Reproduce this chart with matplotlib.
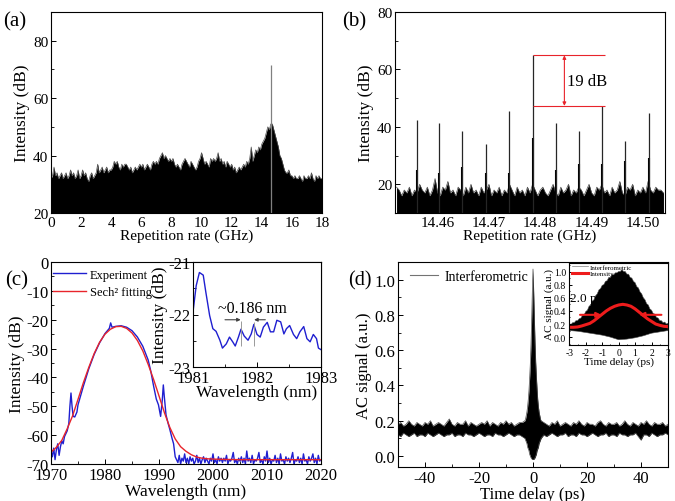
import numpy as np
import matplotlib
matplotlib.use('Agg')
import matplotlib.pyplot as plt
from matplotlib.ticker import AutoMinorLocator, MultipleLocator
from matplotlib.lines import Line2D

plt.rcParams['font.family'] = 'serif'
plt.rcParams['font.serif'] = ['Liberation Serif', 'DejaVu Serif']
plt.rcParams['axes.unicode_minus'] = False
plt.rcParams['axes.linewidth'] = 0.8

# %% (a) RF spectrum, 0-18 GHz, noise top every 0.1 GHz
rep_x = np.linspace(0, 18, 181)
rep_db = [32, 33, 36, 33, 34, 32, 33, 34, 32, 33,
          34, 32, 33, 35, 33, 34, 32, 33, 35, 32,
          33, 35, 33, 34, 32, 31, 33, 34, 32, 33,
          34, 37, 34, 35, 36, 34, 35, 36, 34, 35,
          35, 36, 38, 37, 38, 36, 35, 37, 36, 37,
          37, 36, 35, 36, 34, 35, 36, 35, 36, 37,
          36, 37, 35, 36, 37, 36, 35, 37, 38, 37,
          38, 37, 39, 40, 41, 39, 40, 39, 38, 39,
          38, 39, 37, 36, 37, 36, 35, 37, 38, 39,
          38, 37, 36, 38, 37, 36, 35, 36, 38, 39,
          41, 39, 37, 38, 37, 36, 39, 38, 39, 38,
          39, 41, 38, 39, 37, 38, 36, 38, 37, 36,
          37, 35, 36, 34, 35, 36, 35, 36, 37, 36,
          38, 37, 39, 43, 38, 40, 42, 41, 43, 42,
          44, 45, 46, 48, 50, 49, 51, 51, 49, 47,
          45, 43, 40, 39, 37, 35, 34, 34, 35, 33,
          33, 32, 33, 32, 32, 33, 32, 31, 33, 32,
          32, 33, 32, 34, 32, 31, 33, 32, 33, 32,
          32]
spike_a_x = [14.6]
spike_a_db = [71.5]

# %% (b) zoomed RF spectrum
fine_x = np.linspace(14.452, 14.504, 105)
fine_db = [19, 18, 16, 18, 17, 19, 16, 18, 17, 20,
           18, 17, 19, 16, 18, 22, 17, 16, 19, 18,
           21, 17, 18, 16, 19, 18, 16, 19, 17, 20,
           17, 18, 16, 19, 17, 18, 20, 16, 18, 17,
           19, 16, 18, 17, 20, 18, 16, 19, 17, 18,
           16, 19, 17, 20, 18, 16, 18, 19, 17, 16,
           18, 20, 17, 16, 19, 17, 18, 20, 16, 18,
           17, 19, 18, 16, 18, 20, 17, 16, 19, 18,
           20, 17, 18, 16, 19, 17, 18, 21, 17, 16,
           19, 18, 20, 16, 18, 17, 19, 17, 21, 18,
           17, 19, 18, 18, 17]
peak_b_x = [14.4559, 14.4603, 14.4648, 14.4695, 14.4740, 14.4785,
            14.4831, 14.4876, 14.4920, 14.4965, 14.5011]
peak_b_db = [42.3, 41.5, 38.7, 33.9, 45.4, 64.9, 41.2, 38.5, 47.3, 35.2, 45.0]
peak_b_base = [25, 24, 26, 24, 24, 36, 25, 27, 27, 28, 29]

# %% (c) optical spectrum
wl_exp = [1970.0, 1970.25, 1970.5, 1970.75, 1971.0, 1971.25, 1971.5, 1971.75,
          1972.0, 1972.25, 1972.5, 1972.75, 1973.0, 1973.3, 1973.5, 1973.7,
          1973.9, 1974.1, 1974.4, 1974.8, 1975.0, 1976.0, 1977.0, 1978.0,
          1979.0, 1980.0, 1980.8, 1981.05, 1981.3, 1982.0, 1983.0, 1984.0,
          1985.0, 1986.0, 1987.0, 1988.0, 1988.5, 1989.0, 1989.5, 1989.9,
          1990.3, 1990.6, 1990.8, 1991.0, 1991.3, 1991.7, 1992.0, 1992.4,
          1992.7, 1993.0]
db_exp = [-65.5, -67.5, -64.5, -68.5, -65, -63, -67, -64,
          -62, -63, -60.5, -59.5, -58.5, -56, -50, -45.4,
          -50, -53.5, -53.7, -52, -49.5, -43, -37, -32,
          -28, -24.8, -23, -21.1, -22.6, -22.3, -22.1, -22.6,
          -23.8, -26, -29.2, -34, -38, -43, -47.5, -49.5,
          -53.5, -48, -42.6, -47, -53, -56, -58, -61,
          -63, -67.5]
wl_floor = np.linspace(1993.25, 2020, 108)
db_floor = [-68.5, -69.5, -67, -70, -68, -69, -66.5, -69.5, -68, -70, -67.5, -69,
            -68, -70, -69, -67, -69.5, -68, -70, -68.5, -67.5, -69.5, -68, -69,
            -70, -68, -69, -66.5, -69.5, -68.5, -70, -67.5, -69, -68, -69.5, -68,
            -69, -67, -70, -68.5, -69, -68, -66, -69.5, -68.5, -70, -68, -69,
            -67.5, -69.5, -68, -70, -65.5, -69, -68, -69.5, -67, -70, -68.5, -69,
            -68, -66, -69.5, -68.5, -70, -67.5, -69, -65.5, -69.5, -68, -70, -68.5,
            -69, -67, -69.5, -68, -70, -66.5, -69, -68.5, -70, -67.5, -69, -68,
            -69.5, -68, -66, -70, -68.5, -69, -67.5, -69.5, -68, -70, -66.5, -69,
            -68.5, -70, -67.5, -69, -68, -66.5, -69.5, -68, -70, -67, -69, -68.5]
wl_fit = [1970, 1971, 1972, 1973, 1974, 1975, 1976, 1977, 1978, 1979, 1980,
          1981, 1982, 1983, 1984, 1985, 1986, 1987, 1988, 1989, 1990, 1991,
          1992, 1993, 1994, 1995, 1996, 1997, 1998, 1999, 2000, 2002, 2005,
          2010, 2020]
db_fit = [-65.9, -64.2, -61.8, -57.8, -53.3, -47.6, -41.8, -36.5, -31.7, -27.8,
          -25.0, -23.3, -22.4, -22.3, -23.0, -24.6, -27.2, -30.8, -35.5, -40.7,
          -46.4, -52.2, -57.3, -61.3, -64.0, -65.6, -66.8, -67.6, -68.0, -68.2,
          -68.3, -68.4, -68.5, -68.5, -68.5]

# inset (c) zoom on the top of the spectrum
wl_in = [1981.0, 1981.05, 1981.1, 1981.16, 1981.2, 1981.26, 1981.31, 1981.36,
         1981.42, 1981.46, 1981.52, 1981.57, 1981.62, 1981.66, 1981.71, 1981.75,
         1981.8, 1981.86, 1981.91, 1981.95, 1982.0, 1982.05, 1982.1, 1982.16,
         1982.21, 1982.26, 1982.31, 1982.37, 1982.42, 1982.46, 1982.51, 1982.57,
         1982.62, 1982.67, 1982.73, 1982.78, 1982.83, 1982.88, 1982.93, 1982.96,
         1983.0]
db_in = [-21.95, -21.45, -21.2, -21.25, -21.57, -22.02, -22.27, -22.32,
         -22.49, -22.64, -22.56, -22.43, -22.52, -22.6, -22.43, -22.28,
         -22.41, -22.49, -22.37, -22.19, -22.38, -22.43, -22.24, -22.15,
         -22.33, -22.33, -22.11, -22.14, -22.37, -22.27, -22.21, -22.38,
         -22.46, -22.33, -22.23, -22.46, -22.52, -22.38, -22.46, -22.64,
         -22.67]

# %% (d) autocorrelation
t_ac = np.concatenate([np.arange(-50, -3), np.linspace(-3, 3, 25), np.arange(4, 51)])
ac_top = [0.18, 0.19, 0.17, 0.18, 0.20, 0.18, 0.17, 0.19, 0.18, 0.17,
          0.19, 0.18, 0.20, 0.17, 0.18, 0.19, 0.18, 0.17, 0.19, 0.21,
          0.18, 0.17, 0.19, 0.18, 0.18, 0.20, 0.17, 0.19, 0.18, 0.17,
          0.18, 0.19, 0.18, 0.20, 0.17, 0.19, 0.18, 0.17, 0.19, 0.18,
          0.20, 0.18, 0.19, 0.17, 0.18, 0.19, 0.19,
          0.20, 0.21, 0.23, 0.25, 0.28, 0.32, 0.37, 0.44, 0.52, 0.63, 0.77, 0.93,
          1.06,
          0.93, 0.78, 0.64, 0.53, 0.45, 0.38, 0.32, 0.28, 0.25, 0.23, 0.21, 0.20,
          0.19, 0.18, 0.17, 0.19, 0.18, 0.20, 0.17, 0.18, 0.19, 0.18,
          0.17, 0.19, 0.18, 0.20, 0.18, 0.17, 0.19, 0.18, 0.18, 0.17,
          0.19, 0.20, 0.18, 0.17, 0.19, 0.18, 0.18, 0.19, 0.17, 0.18,
          0.20, 0.18, 0.17, 0.19, 0.18, 0.17, 0.19, 0.18, 0.20, 0.18,
          0.17, 0.19, 0.18, 0.18, 0.19, 0.17, 0.18]
ac_bot = [0.12, 0.11, 0.13, 0.12, 0.11, 0.12, 0.13, 0.11, 0.12, 0.12,
          0.11, 0.13, 0.12, 0.11, 0.12, 0.13, 0.12, 0.11, 0.12, 0.12,
          0.13, 0.11, 0.12, 0.12, 0.11, 0.13, 0.12, 0.12, 0.11, 0.12,
          0.13, 0.12, 0.11, 0.12, 0.12, 0.11, 0.13, 0.12, 0.12, 0.11,
          0.12, 0.13, 0.12, 0.11, 0.12, 0.12, 0.11,
          0.10, 0.09, 0.08, 0.07, 0.05, 0.04, 0.03, 0.01, 0.0, -0.01, -0.015, -0.02,
          -0.02,
          -0.02, -0.015, -0.01, 0.0, 0.01, 0.03, 0.04, 0.05, 0.07, 0.08, 0.09, 0.10,
          0.12, 0.11, 0.12, 0.13, 0.12, 0.11, 0.12, 0.12, 0.13, 0.11,
          0.12, 0.12, 0.11, 0.13, 0.12, 0.12, 0.11, 0.12, 0.13, 0.12,
          0.11, 0.12, 0.12, 0.13, 0.11, 0.12, 0.12, 0.11, 0.13, 0.12,
          0.12, 0.11, 0.12, 0.12, 0.13, 0.11, 0.09, 0.12, 0.12, 0.11,
          0.13, 0.12, 0.11, 0.12, 0.12, 0.13, 0.12]

# inset (d)
t_in_top = np.linspace(-3, 3, 61)
in_top = [0.21, 0.19, 0.22, 0.22, 0.25, 0.25, 0.28, 0.29, 0.33, 0.34,
          0.39, 0.41, 0.47, 0.49, 0.55, 0.57, 0.63, 0.66, 0.72, 0.74,
          0.79, 0.80, 0.85, 0.86, 0.91, 0.91, 0.95, 0.95, 0.98, 0.98,
          1.00, 1.00, 1.03, 1.00, 1.00, 0.96, 0.96, 0.91, 0.90, 0.85,
          0.83, 0.77, 0.75, 0.69, 0.66, 0.60, 0.57, 0.51, 0.49, 0.43,
          0.41, 0.36, 0.35, 0.30, 0.29, 0.25, 0.25, 0.22, 0.23, 0.20,
          0.21]
t_in_bot = np.linspace(-3, 3, 13)
in_bot = [0.10, 0.09, 0.07, 0.05, 0.03, 0.0, -0.04, -0.03, -0.01, 0.02, 0.06, 0.08, 0.10]
t_int = np.linspace(-3, 3, 25)
ac_int = [0.15, 0.15, 0.155, 0.17, 0.19, 0.21, 0.25, 0.30, 0.35, 0.40, 0.44, 0.47,
          0.49, 0.50, 0.49, 0.47, 0.43, 0.38, 0.33, 0.28, 0.24, 0.20, 0.18, 0.165,
          0.16]

fig = plt.figure(figsize=(6.75, 5.02), dpi=100)


def box(l, t, r, b):
    return fig.add_axes([l / 675, 1 - b / 502, (r - l) / 675, (b - t) / 502])


def style(ax, size):
    ax.tick_params(which='both', direction='in', top=False, right=False,
                   labelsize=size, pad=2)
    ax.tick_params(which='major', length=3.5, width=0.7)
    ax.tick_params(which='minor', length=2, width=0.6)
    ax.xaxis.set_minor_locator(AutoMinorLocator(2))
    ax.yaxis.set_minor_locator(AutoMinorLocator(2))


# %% (a)
ax = box(51, 13, 322, 214)
ax.fill_between(rep_x, 20, rep_db, color='black', lw=0)
ax.plot(rep_x, rep_db, color='0.3', lw=0.5)
ax.vlines(spike_a_x, 20, spike_a_db, color='0.5', lw=0.9)
ax.set_xlim(0, 18)
ax.set_ylim(20, 90)
ax.xaxis.set_major_locator(MultipleLocator(2))
ax.yaxis.set_major_locator(MultipleLocator(20))
style(ax, 11)
ax.set_xlabel('Repetition rate (GHz)', fontsize=11, labelpad=0)
ax.set_ylabel('Intensity (dB)', fontsize=12.5, labelpad=2)
fig.text(3 / 675, 1 - 22 / 502, '(a)', fontsize=15, va='center')

# %% (b)
ax = box(395, 13, 665, 214)
ax.fill_between(fine_x, 10, fine_db, color='black', lw=0)
ax.plot(fine_x, fine_db, color='0.3', lw=0.5)
ax.vlines(peak_b_x, 10, peak_b_base, color='black', lw=1.5)
ax.vlines(peak_b_x, 10, peak_b_db, color='0.15', lw=0.9)
ax.hlines([64.9, 47.3], 14.4785, 14.4927, color='#e8242b', lw=0.8)
ax.annotate('', xy=(14.4847, 64.9), xytext=(14.4847, 47.3),
            arrowprops=dict(arrowstyle='<|-|>', color='#e8242b', lw=0.8,
                            mutation_scale=5, shrinkA=0, shrinkB=0))
ax.text(14.4853, 56, '19 dB', fontsize=12, va='center')
ax.set_xlim(14.4517, 14.5043)
ax.set_ylim(10, 80)
ax.xaxis.set_major_locator(MultipleLocator(0.01))
ax.xaxis.set_major_formatter(plt.FormatStrFormatter('%.2f'))
ax.yaxis.set_major_locator(MultipleLocator(20))
style(ax, 11)
ax.set_xlabel('Repetition rate (GHz)', fontsize=11, labelpad=0)
ax.set_ylabel('Intensity (dB)', fontsize=12.5, labelpad=2)
fig.text(342 / 675, 1 - 22 / 502, '(b)', fontsize=15, va='center')

# %% (c)
ax = box(51, 263, 321, 465)
ax.plot(list(wl_exp) + list(wl_floor), db_exp + db_floor, color='#1f1fd0', lw=1.0,
        label='Experiment')
ax.plot(wl_fit, db_fit, color='#e8242b', lw=1.0, label='Sech² fitting')
ax.set_xlim(1970, 2020)
ax.set_ylim(-70, 0)
ax.xaxis.set_major_locator(MultipleLocator(10))
ax.yaxis.set_major_locator(MultipleLocator(10))
style(ax, 12)
ax.set_xlabel('Wavelength (nm)', fontsize=12.5, labelpad=0)
ax.set_ylabel('Intensity (dB)', fontsize=12.5, labelpad=1)
ax.legend(loc='upper left', bbox_to_anchor=(-0.005, 0.985), frameon=False,
          fontsize=9, handlelength=2.6, handletextpad=0.3, labelspacing=0.45,
          borderaxespad=0.0, borderpad=0.3)
fig.text(5 / 675, 1 - 281 / 502, '(c)', fontsize=15, va='center')

ax = box(193, 263, 321, 368)
ax.plot(wl_in, db_in, color='#1f1fd0', lw=1.0)
ax.vlines([1981.745, 1981.955], [-22.6, -22.6], [-22.12, -22.15], color='0.6', lw=0.7)
ax.annotate('', xy=(1981.745, -22.1), xytext=(1981.5, -22.1),
            arrowprops=dict(arrowstyle='-|>', color='0.25', lw=0.8, mutation_scale=5,
                            shrinkA=0, shrinkB=0))
ax.annotate('', xy=(1981.955, -22.1), xytext=(1982.13, -22.1),
            arrowprops=dict(arrowstyle='-|>', color='0.25', lw=0.8, mutation_scale=5,
                            shrinkA=0, shrinkB=0))
ax.text(1981.93, -21.88, '~0.186 nm', fontsize=11.5, ha='center', va='center')
ax.set_xlim(1981, 1983)
ax.set_ylim(-23, -21)
ax.xaxis.set_major_locator(MultipleLocator(1))
ax.yaxis.set_major_locator(MultipleLocator(1))
style(ax, 12)
ax.set_xlabel('Wavelength (nm)', fontsize=12.5, labelpad=-1)
ax.set_ylabel('Intensity (dB)', fontsize=12.5, labelpad=0)

# %% (d)
ax = box(398, 263, 668, 468)
ax.fill_between(t_ac, ac_bot, ac_top, color='black', lw=0)
ax.plot(t_ac, ac_top, color='0.3', lw=0.5)
ax.plot(t_ac, ac_bot, color='0.3', lw=0.5)
ax.set_xlim(-50, 50)
ax.set_ylim(-0.0625, 1.1)
ax.xaxis.set_major_locator(MultipleLocator(20))
ax.yaxis.set_major_locator(MultipleLocator(0.2))
ax.yaxis.set_major_formatter(plt.FormatStrFormatter('%.1f'))
style(ax, 12)
ax.set_xlabel('Time delay (ps)', fontsize=12, labelpad=0)
ax.set_ylabel('AC signal (a.u.)', fontsize=12, labelpad=2)
ax.legend([Line2D([], [], color='0.45', lw=0.8)], ['Interferometric'],
          loc='upper left', bbox_to_anchor=(0.045, 0.96), frameon=False,
          fontsize=10, handlelength=2.0, handletextpad=0.5,
          borderaxespad=0.0, borderpad=0.0)
fig.text(348 / 675, 1 - 281 / 502, '(d)', fontsize=14.5, va='center')

ax = box(569, 264, 668, 346)
poly_t = np.concatenate([t_in_top, t_in_bot[::-1]])
poly_v = np.concatenate([in_top, in_bot[::-1]])
ax.fill(poly_t, poly_v, color='black', lw=0.4, ec='0.3')
ax.plot(t_int, ac_int, color='#ee1c1c', lw=2.2)
ax.annotate('', xy=(-1.05, 0.34), xytext=(-2.35, 0.34),
            arrowprops=dict(arrowstyle='-|>', color='#ee1c1c', lw=1.5, mutation_scale=7,
                            shrinkA=0, shrinkB=0))
ax.annotate('', xy=(1.25, 0.34), xytext=(2.6, 0.34),
            arrowprops=dict(arrowstyle='-|>', color='#ee1c1c', lw=1.5, mutation_scale=7,
                            shrinkA=0, shrinkB=0))
ax.text(-2.95, 0.6, '2.0 ps', fontsize=9.5, va='center', zorder=5)
ax.set_xlim(-3.02, 3.0)
ax.set_ylim(-0.12, 1.13)
ax.xaxis.set_major_locator(MultipleLocator(1))
ax.yaxis.set_major_locator(MultipleLocator(0.2))
ax.yaxis.set_major_formatter(plt.FormatStrFormatter('%.1f'))
style(ax, 7)
ax.tick_params(which='major', length=2)
ax.tick_params(which='minor', length=1)
ax.set_xlabel('Time delay (ps)', fontsize=8, labelpad=0)
ax.set_ylabel('AC signal (a.u.)', fontsize=8, labelpad=0)
ax.legend([Line2D([], [], color='0.5', lw=0.5), Line2D([], [], color='#ee1c1c', lw=2.2)],
          ['Interferometric', 'Intensity'], loc='upper left',
          bbox_to_anchor=(0.0, 1.03), frameon=False, fontsize=5,
          handlelength=2.2, handletextpad=0.3, labelspacing=0.1, borderaxespad=0.1)

fig.savefig('out.png', dpi=100)
